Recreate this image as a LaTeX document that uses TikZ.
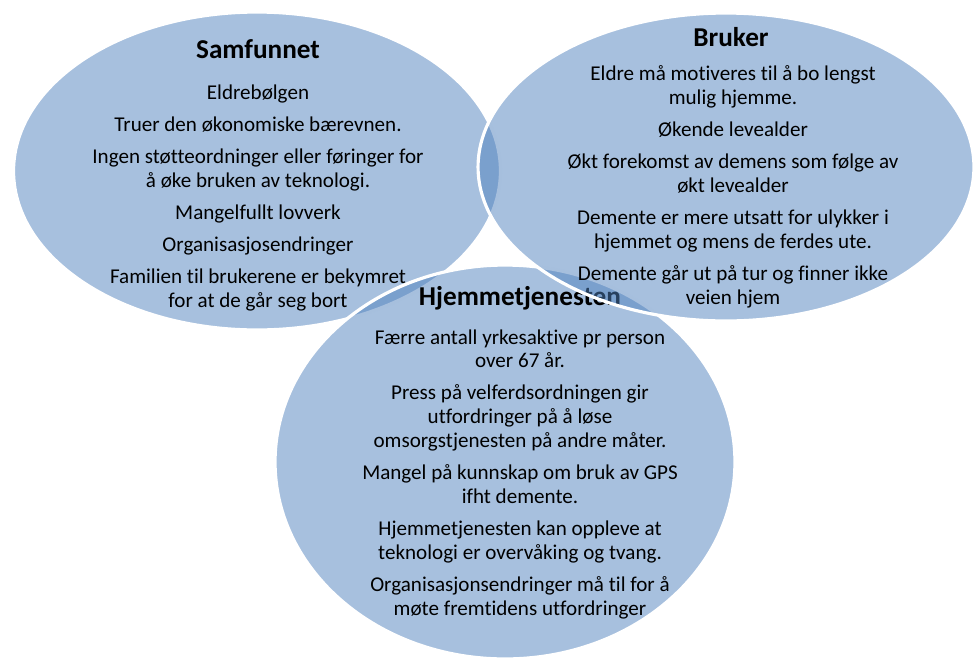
\documentclass[tikz,border=0pt]{standalone}
\usepackage{fontspec}
\setmainfont{Carlito}[RawFeature={-liga;-calt;-clig}]
\usepackage{tikz}
\usetikzlibrary{positioning,shapes.geometric}
\definecolor{OfficeBlue}{RGB}{79,129,189}
\tikzset{
  venn/.style={ellipse, fill=OfficeBlue, fill opacity=0.5, draw=white,
               draw opacity=1, line width=1.8pt, inner sep=0pt},
  vtitle/.style={font=\fontsize{15.5}{17}\selectfont\bfseries, inner sep=0pt},
  vlist/.style={font=\fontsize{12}{13.6}\selectfont, align=center,
                inner sep=0pt, anchor=north},
}
\newcommand{\gap}{\\[4.6pt]}

\begin{document}
\begin{tikzpicture}[x=0.02cm, y=-0.02cm]
  \useasboundingbox (0,0) rectangle (973,660);
  % society
  \node[venn, minimum width=9.74cm, minimum height=6.36cm] (samf) at (257,171) {};
  \node[vtitle] (samfT) at (258,49) {Samfunnet};
  \node[vlist] (samfL) at (258,85) {Eldrebølgen\gap
    Truer den økonomiske bærevnen.\gap
    Ingen støtteordninger eller føringer for\\å øke bruken av teknologi.\gap
    Mangelfullt lovverk\gap
    Organisasjosendringer\gap
    Familien til brukerene er bekymret\\for at de går seg bort};
  % home care
  \node[venn, minimum width=9.2cm, minimum height=7.88cm] (hjem) at (505,462) {};
  \node[vtitle] (hjemT) at (520,298) {Hjemmetjenesten};
  \node[vlist] (hjemL) at (520,329) {Færre antall yrkesaktive pr person\\over 67 år.\gap
    Press på velferdsordningen gir\\utfordringer på å løse\\omsorgstjenesten på andre måter.\gap
    Mangel på kunnskap om bruk av GPS\\ifht demente.\gap
    Hjemmetjenesten kan oppleve at\\teknologi er overvåking og tvang.\gap
    Organisasjonsendringer må til for å\\møte fremtidens utfordringer};
  % user
  \node[venn, minimum width=9.92cm, minimum height=6.16cm] (bruk) at (726,167) {};
  \node[vtitle] (brukT) at (731,37) {Bruker};
  \node[vlist] (brukL) at (733,65.5) {Eldre må motiveres til å bo lengst\\mulig hjemme.\gap
    Økende levealder\gap
    Økt forekomst av demens som følge av\\økt levealder\gap
    Demente er mere utsatt for ulykker i\\hjemmet og mens de ferdes ute.\gap
    Demente går ut på tur og finner ikke\\veien hjem};
\end{tikzpicture}
\end{document}
